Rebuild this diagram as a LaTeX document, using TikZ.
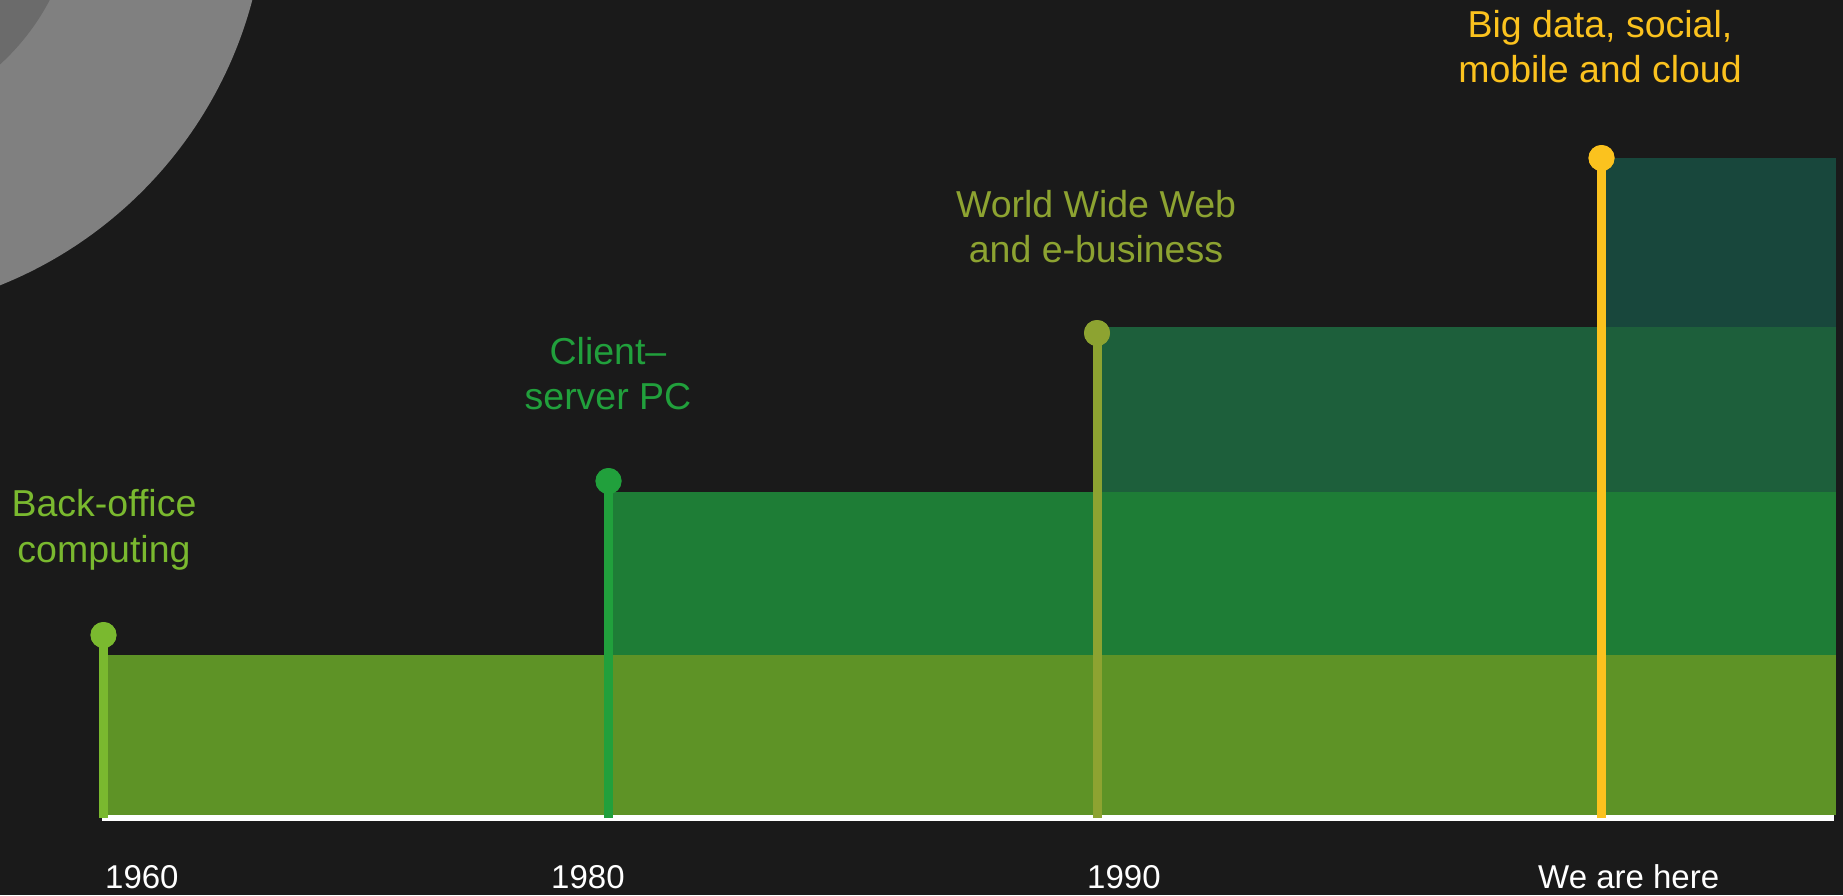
\documentclass[tikz,border=0pt]{standalone}
\usepackage{fontspec}
\setmainfont{Liberation Sans}
\definecolor{bgc}{HTML}{1A1A1A}
\definecolor{ringout}{HTML}{808080}
\definecolor{ringin}{HTML}{6B6B6B}
\definecolor{cA}{HTML}{7AB92F}
\definecolor{cB}{HTML}{21A03C}
\definecolor{cC}{HTML}{8DA331}
\definecolor{cD}{HTML}{FBC21E}
\definecolor{fA}{HTML}{5E9326}
\definecolor{fB}{HTML}{1E7D36}
\definecolor{fC}{HTML}{1D5F3B}
\definecolor{fD}{HTML}{18473C}
\begin{document}
\begin{tikzpicture}[x=1pt,y=-1pt,
  pole/.style={line width=9pt},
  knob/.style={circle, minimum size=26pt, inner sep=0pt, fill=#1},
  toplabel/.style={text=#1, font=\fontsize{37.5}{45.5}\selectfont, align=center, inner sep=0pt, anchor=base},
  yearlabel/.style={text=white, font=\fontsize{33}{40}\selectfont, inner sep=0pt, anchor=base west},
  layer/.style={fill=#1, draw=none}]
\fill[bgc] (0,0) rectangle (1843,895);
\useasboundingbox (0,0) rectangle (1843,895);
% grey rings in the corner
\begin{scope}
\clip (0,0) rectangle (1843,895);
\fill[ringout] (-157.7,-108.4) circle[radius=424];
\fill[ringin] (-157.7,-108.4) circle[radius=234];
\end{scope}
% layers
\fill[layer=fA] (104,655) rectangle (1836,815);
\fill[layer=fB] (608,492) rectangle (1836,655);
\fill[layer=fC] (1097,327) rectangle (1836,492);
\fill[layer=fD] (1602,158) rectangle (1836,327);
% baseline
\fill[white] (102,815) rectangle (1834,821);
% poles and knobs
\coordinate (b1) at (103.5,818);
\coordinate (b2) at (608.5,818);
\coordinate (b3) at (1097,818);
\coordinate (b4) at (1601.5,818);
\node[knob=cA] (k1) at (103.5,635) {};
\node[knob=cB] (k2) at (608.5,481) {};
\node[knob=cC] (k3) at (1097,333) {};
\node[knob=cD] (k4) at (1601.5,158) {};
\draw[pole, cA] (b1) -- (k1.center);
\draw[pole, cB] (b2) -- (k2.center);
\draw[pole, cC] (b3) -- (k3.center);
\draw[pole, cD] (b4) -- (k4.center);
\node[knob=cA] at (k1) {};
\node[knob=cB] at (k2) {};
\node[knob=cC] at (k3) {};
\node[knob=cD] at (k4) {};
% top labels (anchored at the baseline of the last line)
\node[toplabel=cA] (t1) at (104,562) {Back-office\\computing};
\node[toplabel=cB] (t2) at (608,409.5) {Client–\\server PC};
\node[toplabel=cC] (t3) at (1096,262.5) {World Wide Web\\and e-business};
\node[toplabel=cD] (t4) at (1600,82.8) {Big data, social,\\mobile and cloud};
% year labels
\node[yearlabel] (y1) at (105,888) {1960};
\node[yearlabel] (y2) at (551,888) {1980};
\node[yearlabel] (y3) at (1087,888) {1990};
\node[yearlabel] (y4) at (1538,888) {We are here};
\end{tikzpicture}
\end{document}
